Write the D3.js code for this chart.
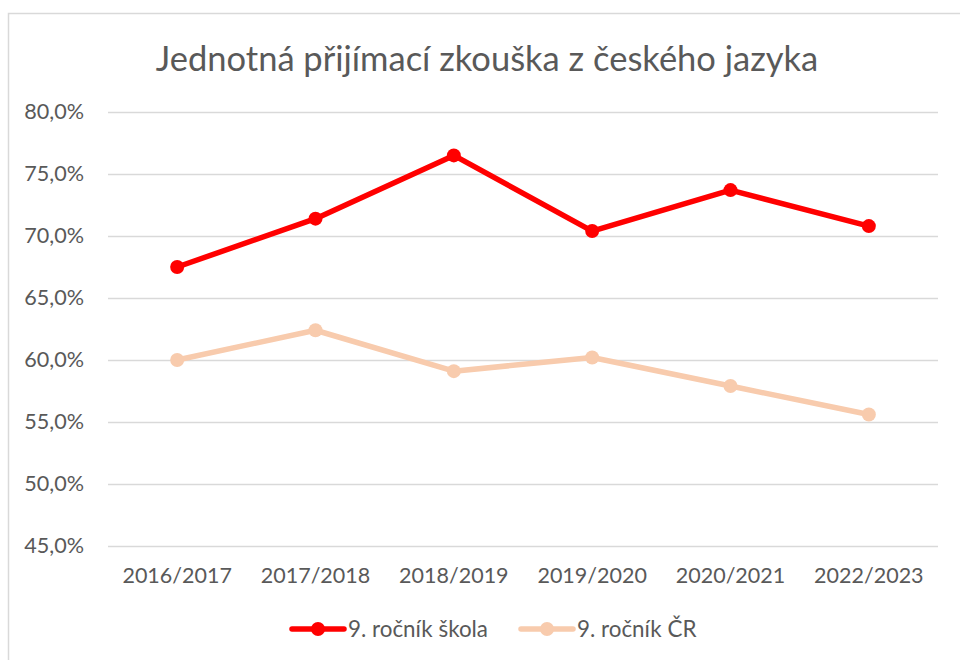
<!DOCTYPE html>
<html><head><meta charset="utf-8">
<script src="https://cdn.jsdelivr.net/npm/d3@7"></script>
<style>body{margin:0;background:#fff;} svg{display:block;}</style>
</head><body>
<svg id="c" width="960" height="660"></svg>
<script>
const categories = ["2016/2017","2017/2018","2018/2019","2019/2020","2020/2021","2022/2023"];
const skola = [67.5, 71.4, 76.5, 70.4, 73.7, 70.8];
const cr = [60.0, 62.4, 59.1, 60.2, 57.9, 55.6];
const yTicks = [45,50,55,60,65,70,75,80];
const seriesNames = ["9. ročník škola","9. ročník ČR"];
const colors = ["#FF0000","#F8CBAD"];

const svg = d3.select("#c");
const font = "Lato, 'Open Sans', sans-serif";
svg.append("rect").attr("x",8.5).attr("y",13.5).attr("width",1000).attr("height",700)
  .attr("fill","#fff").attr("stroke","#d9d9d9").attr("stroke-width",1.5);

svg.append("text").attr("x",487).attr("y",71).attr("text-anchor","middle")
  .attr("font-family",font).attr("font-size",34.5).attr("fill","#595959")
  .text("Jednotná přijímací zkouška z českého jazyka");

const x = d3.scaleBand().domain(categories).range([108,938]);
const y = d3.scaleLinear().domain([45,80]).range([546,112]);

const yAxis = d3.axisLeft(y).tickValues(yTicks).tickSize(-(938-108))
  .tickFormat(d => d.toFixed(1).replace(".",",") + "%");
const ga = svg.append("g").attr("transform","translate(108,0)").call(yAxis);
ga.select(".domain").remove();
ga.selectAll(".tick line").attr("stroke","#d9d9d9").attr("stroke-width",1.5);
ga.selectAll(".tick text").attr("x",-24).attr("font-family",font).attr("font-size",21.6).attr("fill","#595959");

const xAxis = d3.axisBottom(x).tickSize(0);
const gx = svg.append("g").attr("transform","translate(0,546)").call(xAxis);
gx.select(".domain").remove();
gx.selectAll(".tick text").attr("dy",0).attr("y",37).attr("font-family",font).attr("font-size",21.5).attr("fill","#595959");

const line = d3.line().x((d,i)=>x(categories[i])+x.bandwidth()/2).y(d=>y(d));
[skola, cr].forEach((s,k)=>{
  svg.append("path").datum(s).attr("d",line).attr("fill","none")
    .attr("stroke",colors[k]).attr("stroke-width",5.5).attr("stroke-linejoin","round").attr("stroke-linecap","round");
  svg.selectAll(null).data(s).enter().append("circle")
    .attr("cx",(d,i)=>x(categories[i])+x.bandwidth()/2).attr("cy",d=>y(d)).attr("r",7)
    .attr("fill",colors[k]);
});

const legendX = [290, 519];
seriesNames.forEach((n,k)=>{
  const g = svg.append("g").attr("transform",`translate(${legendX[k]},629)`);
  g.append("line").attr("x1",2).attr("x2",54).attr("stroke",colors[k]).attr("stroke-width",5.5).attr("stroke-linecap","round");
  g.append("circle").attr("cx",28).attr("r",7).attr("fill",colors[k]);
  g.append("text").attr("x",58).attr("y",7.5).attr("font-family",font).attr("font-size",22.4).attr("fill","#595959").text(n);
});
</script>
</body></html>
